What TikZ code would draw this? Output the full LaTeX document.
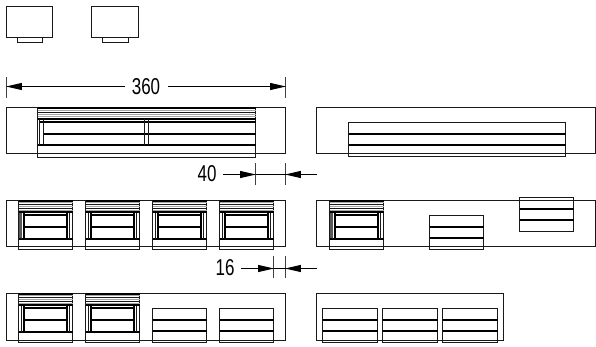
\documentclass[tikz,border=0pt]{standalone}
\usepackage{graphicx}
\usepackage{fontspec}
\setmainfont{Liberation Sans}
\usetikzlibrary{arrows.meta}
\tikzset{
  x=1.00375pt,y=-1.00375pt,
  outl/.style={draw=black!90,line width=1.2pt},
  thin line/.style={draw=black!90,line width=1pt},
  grey line/.style={draw=black!35,line width=1pt},
  thick line/.style={draw=black,line width=2pt},
  ext/.style={draw=black!75,line width=1pt},
  dimline/.style={draw=black,line width=1pt},
  dimtip/.style={-{Triangle[length=16pt,width=7pt]},draw=black,line width=1pt,shorten >=-.5pt},
  dimlab/.style={inner sep=0pt,font=\fontsize{23}{23}\selectfont},
  pics/plainmod/.style={code={
    \draw[outl] (0,0) rectangle (#1,34);
    \draw[thick line] (0,11.5) -- (#1,11.5);
    \draw[thick line] (0,22.5) -- (#1,22.5);
  }},
  pics/loumod/.style={code={
    \draw[outl] (0,0) rectangle (54,49);
    \draw[thick line] (0,.5) -- (54,.5);
    \foreach \yy in {2,6,10}{\draw[grey line] (0,\yy) -- (54,\yy);}
    \foreach \yy in {4,8}{\draw[thin line] (0,\yy) -- (54,\yy);}
    \draw[thick line] (0,11.5) -- (54,11.5);
    \draw[thick line] (5.5,14.5) -- (48.5,14.5);
    \draw[thick line] (5.5,26.5) -- (48.5,26.5);
    \draw[thick line] (0,38.5) -- (54,38.5);
    \draw[thin line] (3,12) -- (3,38);
    \draw[thick line] (5.5,12) -- (5.5,38);
    \draw[thick line] (48.5,12) -- (48.5,38);
    \draw[thin line] (51,12) -- (51,38);
  }},
}
\begin{document}
\begin{tikzpicture}
\useasboundingbox (0,0) rectangle (596,347);
% top boxes
\draw[outl] (6.5,6.5) rectangle (52.5,37.5);
\draw[outl] (17.5,37.5) rectangle (42.5,42.5);
\draw[outl] (91.5,6.5) rectangle (138.5,37.5);
\draw[outl] (102.5,37.5) rectangle (128.5,42.5);
% dim 360
\coordinate (a1) at (6.5,77); \coordinate (a2) at (6.5,98);
\coordinate (b1) at (285.5,77); \coordinate (b2) at (285.5,98);
\draw[ext] (a1) -- (a2); \draw[ext] (b1) -- (b2);
\node[dimlab] (t360) at (146,86.5) {\scalebox{.74}[1]{360}};
\coordinate (a3) at (6.5,86.5); \coordinate (b3) at (285.5,86.5);
\draw[dimtip] (125,86.5) -- (a3);
\draw[dimtip] (168,86.5) -- (b3);
% panel 1
\draw[outl] (6.5,107.5) rectangle (285.5,153.5);
\draw[outl] (37.5,107.5) rectangle (255.5,157.5);
\draw[thick line] (37.5,108) -- (255.5,108);
\foreach \yy in {110.5,114.5,116.5}{\draw[grey line] (37.5,\yy) -- (255.5,\yy);}
\foreach \yy in {112.5}{\draw[thin line] (37.5,\yy) -- (255.5,\yy);}
\draw[thick line] (37.5,119) -- (255.5,119);
\draw[thick line] (40,122) -- (255.5,122);
\draw[thick line] (43,134) -- (255.5,134);
\draw[thick line] (37.5,145) -- (255.5,145);
\draw[thin line] (39.5,119) -- (39.5,145) (43.5,119) -- (43.5,145);
\draw[thin line] (144.5,119) -- (144.5,145) (148.5,119) -- (148.5,145);
% panel 2
\draw[outl] (316.5,107.5) rectangle (595.5,153.5);
\pic at (348.5,122.5) {plainmod=217};
% dim 40
\coordinate (c1) at (255.5,163); \coordinate (c2) at (255.5,185);
\coordinate (d1) at (285.5,163); \coordinate (d2) at (285.5,185);
\draw[ext] (c1) -- (c2); \draw[ext] (d1) -- (d2);
\node[dimlab] (t40) at (207,174) {\scalebox{.74}[1]{40}};
\coordinate (c3) at (255.5,174.5); \coordinate (d3) at (285.5,174.5);
\draw[dimtip] (223,174.5) -- (c3);
\draw[dimtip] (317,174.5) -- (d3);
\draw[dimline] (c3) -- (d3);
% row 3
\draw[outl] (6.5,200.5) rectangle (285.5,246.5);
\foreach \xx in {18.5,85.5,152.5,219.5}{\pic at (\xx,200.5) {loumod};}
\fill[black!65] (19,213) rectangle (22,238);
\draw[outl] (316.5,200.5) rectangle (595.5,246.5);
\pic at (329.5,200.5) {loumod};
\fill[black!65] (330,213) rectangle (333,238);
\pic at (429.5,215.5) {plainmod=54};
\pic at (519.5,197.5) {plainmod=54};
% dim 16
\coordinate (e1) at (273.5,256); \coordinate (e2) at (273.5,278);
\coordinate (f1) at (285.5,256); \coordinate (f2) at (285.5,278);
\draw[ext] (e1) -- (e2); \draw[ext] (f1) -- (f2);
\node[dimlab] (t16) at (225,268) {\scalebox{.74}[1]{16}};
\coordinate (e3) at (273.5,268.5); \coordinate (f3) at (285.5,268.5);
\draw[dimtip] (241,268.5) -- (e3);
\draw[dimtip] (317,268.5) -- (f3);
\draw[dimline] (e3) -- (f3);
% row 4
\draw[outl] (6.5,293.5) rectangle (285.5,340.5);
\foreach \xx in {18.5,85.5}{\pic at (\xx,293.5) {loumod};}
\foreach \xx in {152.5,219.5}{\pic at (\xx,308.5) {plainmod=54};}
\draw[outl] (316.5,293.5) rectangle (503.5,340.5);
\foreach \xx in {322.5,382.5,442.5}{\pic at (\xx,308.5) {plainmod=55};}
\end{tikzpicture}
\end{document}
